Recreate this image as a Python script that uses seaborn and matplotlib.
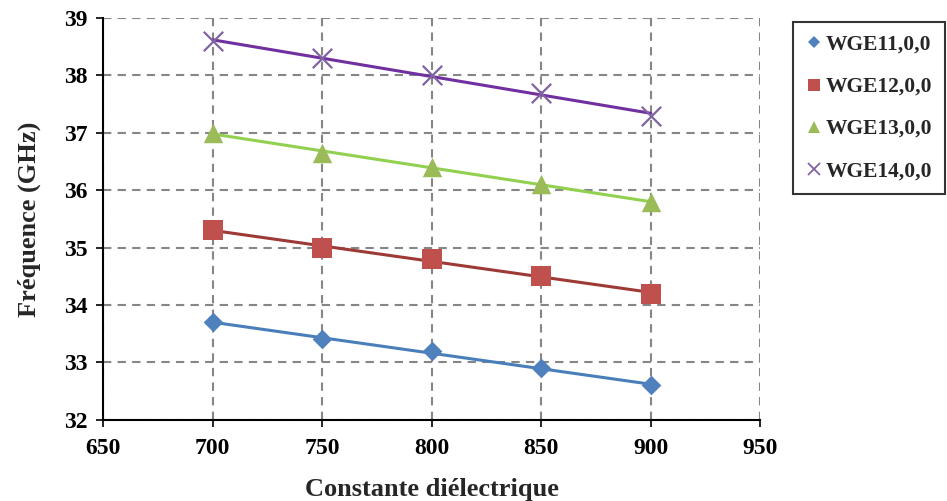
import matplotlib
matplotlib.use("Agg")
import matplotlib.pyplot as plt
import seaborn as sns
import pandas as pd
from matplotlib.lines import Line2D

# Data
x_values = [700, 750, 800, 850, 900]
wge11 = [33.7, 33.4, 33.2, 32.9, 32.6]
wge12 = [35.3, 35.0, 34.8, 34.5, 34.2]
wge13 = [37.0, 36.65, 36.4, 36.1, 35.8]
wge14 = [38.6, 38.3, 38.0, 37.7, 37.3]
series_names = ["WGE11,0,0", "WGE12,0,0", "WGE13,0,0", "WGE14,0,0"]
x_ticks = [650, 700, 750, 800, 850, 900, 950]
y_ticks = [32, 33, 34, 35, 36, 37, 38, 39]

sns.set_theme(style="white")
plt.rcParams['font.family'] = ['Liberation Serif', 'DejaVu Serif']
plt.rcParams['font.weight'] = 'bold'

fig = plt.figure(figsize=(9.47, 5.01), dpi=100)
ax = fig.add_axes([0.109, 0.162, 0.694, 0.802])

series = [wge11, wge12, wge13, wge14]
marker_colors = ["#4F81BD", "#C0504D", "#9BBB59", "#8064A2"]
line_colors = ["#4A7EBB", "#9E3A36", "#92D050", "#7030A0"]
markers = ["D", "s", "^", "x"]
msizes = [10, 14, 14, 14]

# grid
for xv in x_ticks:
    ax.axvline(xv, color="#868686", linestyle=(0, (4, 3)), linewidth=1.5, zorder=0)
for yv in y_ticks:
    ax.axhline(yv, color="#868686", linestyle=(0, (4, 3)), linewidth=1.5, zorder=0)

handles = []
for vals, name, mc, lc, m, ms in zip(series, series_names, marker_colors, line_colors, markers, msizes):
    df = pd.DataFrame({"x": x_values, "y": vals})
    sns.regplot(data=df, x="x", y="y", ax=ax, scatter=False, ci=None,
                line_kws={"color": lc, "linewidth": 2.2, "zorder": 3}, truncate=True)
    if m == "x":
        sns.scatterplot(data=df, x="x", y="y", ax=ax, marker="x", s=ms**2,
                        color=mc, linewidth=1.6, zorder=4)
    else:
        sns.scatterplot(data=df, x="x", y="y", ax=ax, marker=m, s=ms**2,
                        color=mc, linewidth=0, zorder=4)
    handles.append(Line2D([], [], linestyle="none", marker=m, color=mc,
                          markersize=(ms * 0.62 if m != "x" else 8),
                          markeredgewidth=(1.3 if m == "x" else 0)))

ax.set_xlim(650, 950)
ax.set_ylim(32, 39)
ax.set_xticks(x_ticks)
ax.set_yticks(y_ticks)
ax.tick_params(axis="both", labelsize=17, direction="out", length=5, width=1.2,
               left=True, bottom=True, colors="black")
ax.tick_params(axis="x", pad=8)
ax.tick_params(axis="y", pad=6)
for lab in ax.get_xticklabels() + ax.get_yticklabels():
    lab.set_fontweight("bold")

for side in ["top", "right"]:
    ax.spines[side].set_visible(False)
for side in ["left", "bottom"]:
    ax.spines[side].set_color("black")
    ax.spines[side].set_linewidth(1.5)

ax.set_xlabel("Constante diélectrique", fontsize=19, fontweight="bold", labelpad=14)
ax.set_ylabel("Fréquence (GHz)", fontsize=19, fontweight="bold", labelpad=17)

leg = fig.legend(handles, series_names, loc="upper left",
                 bbox_to_anchor=(0.837, 0.956), frameon=True, fancybox=False,
                 edgecolor="black", prop={"size": 15.5, "weight": "bold"},
                 labelspacing=1.02, handlelength=0.8, handletextpad=0.15,
                 borderpad=0.6, borderaxespad=0)
leg.get_frame().set_linewidth(1.5)

fig.savefig("out.png", dpi=100)
